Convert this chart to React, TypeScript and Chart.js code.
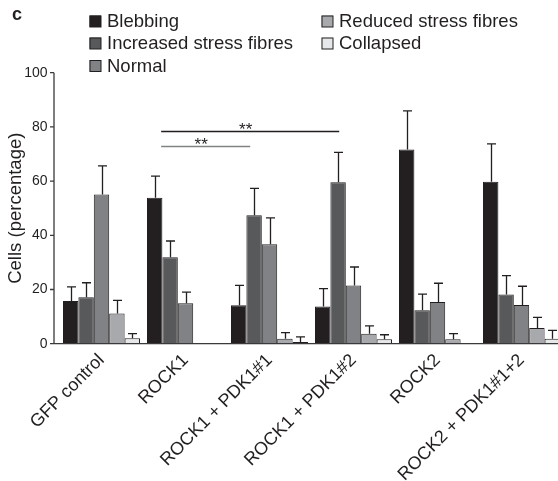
import { useEffect, useRef } from "react";
import { Chart, registerables } from "chart.js";

Chart.register(...registerables);

const categories = [
  "GFP control",
  "ROCK1",
  "ROCK1 + PDK1#1",
  "ROCK1 + PDK1#2",
  "ROCK2",
  "ROCK2 + PDK1#1+2",
];
const seriesNames = [
  "Blebbing",
  "Increased stress fibres",
  "Normal",
  "Reduced stress fibres",
  "Collapsed",
];
const blebbing = [15.8, 53.9, 14.2, 13.7, 71.7, 59.8];
const increased = [17.1, 31.9, 47.4, 59.6, 12.3, 18.2];
const normal = [55.1, 14.9, 36.7, 21.5, 15.4, 14.3];
const reduced = [11.1, null, 1.8, 3.7, 1.6, 5.8];
const collapsed = [2.0, null, 0.6, 1.6, 0.3, 1.8];

const blebbingErr = [5.2, 7.9, 7.3, 6.6, 14.2, 13.9];
const increasedErr = [5.4, 6.0, 9.9, 11.0, 6.0, 6.9];
const normalErr = [10.5, 4.1, 9.7, 6.8, 6.9, 6.9];
const reducedErr = [4.9, null, 2.3, 2.9, 2.1, 3.9];
const collapsedErr = [1.7, null, 1.9, 1.7, 0, 3.1];

const yTicks = [0, 20, 40, 60, 80, 100];

// significance brackets (category-index positions, value height)
const sigFrom = [0.71, 0.71];
const sigTo = [1.77, 2.83];
const sigLevel = [73.1, 78.5];
const sigText = ["**", "**"];

const seriesValues = [blebbing, increased, normal, reduced, collapsed];
const seriesErrors = [blebbingErr, increasedErr, normalErr, reducedErr, collapsedErr];
const seriesColors = ["#231f20", "#58595b", "#808285", "#a7a9ac", "#e6e7e8"];
const sigColors = ["#808285", "#231f20"];

const FONT = "'Liberation Sans', Arial, Helvetica, sans-serif";
const INK = "#231f20";

export default function App() {
  const canvasRef = useRef<HTMLCanvasElement | null>(null);

  useEffect(() => {
    const canvas = canvasRef.current;
    if (!canvas) return;

    const errorBars = {
      id: "errorBars",
      afterDatasetsDraw(chart: any) {
        const ctx = chart.ctx;
        const y = chart.scales.y;
        ctx.save();
        ctx.strokeStyle = INK;
        ctx.lineWidth = 1.3;
        chart.data.datasets.forEach((ds: any, i: number) => {
          const meta = chart.getDatasetMeta(i);
          meta.data.forEach((bar: any, j: number) => {
            const v = seriesValues[i][j];
            const e = seriesErrors[i][j];
            if (v == null || e == null || e <= 0) return;
            const top = y.getPixelForValue(v + e);
            const x = Math.round(bar.x) + 0.5;
            ctx.beginPath();
            ctx.moveTo(x, bar.y);
            ctx.lineTo(x, top);
            ctx.moveTo(x - 4.5, top);
            ctx.lineTo(x + 4.5, top);
            ctx.stroke();
          });
        });
        ctx.restore();
      },
    };

    const axesAndNotes = {
      id: "axesAndNotes",
      afterDraw(chart: any) {
        const ctx = chart.ctx;
        const x = chart.scales.x;
        const y = chart.scales.y;
        const area = chart.chartArea;
        const axisX = area.left - 5.5;
        ctx.save();
        // axes
        ctx.strokeStyle = "#3a3a3c";
        ctx.lineWidth = 1.3;
        ctx.beginPath();
        ctx.moveTo(axisX, y.getPixelForValue(100));
        ctx.lineTo(axisX, y.getPixelForValue(0));
        ctx.moveTo(axisX - 4, y.getPixelForValue(0));
        ctx.lineTo(chart.width, y.getPixelForValue(0));
        yTicks.forEach((t) => {
          const py = y.getPixelForValue(t);
          ctx.moveTo(axisX - 4, py);
          ctx.lineTo(axisX, py);
        });
        ctx.stroke();

        // significance brackets
        sigLevel.forEach((lvl, k) => {
          const py = Math.round(y.getPixelForValue(lvl)) + 0.5;
          const x0 = x.getPixelForValue(sigFrom[k]);
          const x1 = x.getPixelForValue(sigTo[k]);
          ctx.strokeStyle = sigColors[k];
          ctx.lineWidth = 1.5;
          ctx.beginPath();
          ctx.moveTo(x0, py);
          ctx.lineTo(x1, py);
          ctx.stroke();
          ctx.fillStyle = INK;
          ctx.font = `17px ${FONT}`;
          ctx.textAlign = "center";
          ctx.textBaseline = "alphabetic";
          ctx.fillText(sigText[k], (x0 + x1) / 2 - 4.5, py + 3);
        });

        // panel letter
        ctx.fillStyle = INK;
        ctx.font = `bold 18px ${FONT}`;
        ctx.textAlign = "left";
        ctx.textBaseline = "alphabetic";
        ctx.fillText("c", 12, 20);

        // legend (two columns)
        const colX = [89.5, 321.5];
        const rowY = [21, 43, 65.5];
        const perCol = 3;
        ctx.font = `18.5px ${FONT}`;
        ctx.textBaseline = "middle";
        seriesNames.forEach((name, i) => {
          const c = Math.floor(i / perCol);
          const r = i % perCol;
          const bx = colX[c];
          const by = rowY[r];
          ctx.fillStyle = seriesColors[i];
          ctx.fillRect(bx, by - 5.5, 11.5, 11.5);
          ctx.strokeStyle = INK;
          ctx.lineWidth = 1;
          ctx.strokeRect(bx + 0.5, by - 5.5 + 0.5, 11, 11);
          ctx.fillStyle = INK;
          ctx.fillText(name, bx + 17.5, by + 1);
        });
        ctx.restore();
      },
    };

    const chart = new Chart(canvas, {
      type: "bar",
      data: {
        labels: categories,
        datasets: seriesNames.map((name, i) => ({
          label: name,
          data: seriesValues[i] as any,
          backgroundColor: seriesColors[i],
          borderColor: INK,
          borderWidth: 1,
          barPercentage: 1,
          categoryPercentage: 0.917,
        })),
      },
      options: {
        responsive: false,
        animation: false,
        devicePixelRatio: 1,
        layout: { padding: { top: 72.7, right: 16.5, left: 0, bottom: 0 } },
        plugins: {
          legend: { display: false },
          tooltip: { enabled: false },
        },
        scales: {
          x: {
            type: "category",
            offset: true,
            grid: { display: false, drawTicks: false },
            border: { display: false },
            ticks: {
              autoSkip: false,
              minRotation: 45,
              maxRotation: 45,
              padding: 6,
              color: INK,
              font: { family: FONT, size: 18 },
            },
            afterFit: (s: any) => {
              s.height = 137.3;
              s.paddingLeft = 0;
              s.paddingRight = 0;
            },
          },
          y: {
            min: 0,
            max: 100,
            grid: { display: false, drawTicks: false },
            border: { display: false },
            ticks: {
              stepSize: 20,
              padding: 12,
              color: INK,
              font: { family: FONT, size: 14 },
            },
            title: {
              display: true,
              text: "Cells (percentage)",
              color: INK,
              font: { family: FONT, size: 18.5 },
              padding: { top: 4.5, bottom: 0 },
            },
            afterFit: (s: any) => {
              s.width = 59.5;
              s.paddingTop = 0;
              s.paddingBottom = 0;
            },
          },
        },
      },
      plugins: [errorBars, axesAndNotes],
    });

    return () => chart.destroy();
  }, []);

  return (
    <div
      style={{
        position: "fixed",
        left: 0,
        top: 0,
        width: 558,
        height: 481,
        overflow: "hidden",
        background: "#ffffff",
      }}
    >
      <canvas ref={canvasRef} width={580} height={481} style={{ display: "block" }} />
    </div>
  );
}
